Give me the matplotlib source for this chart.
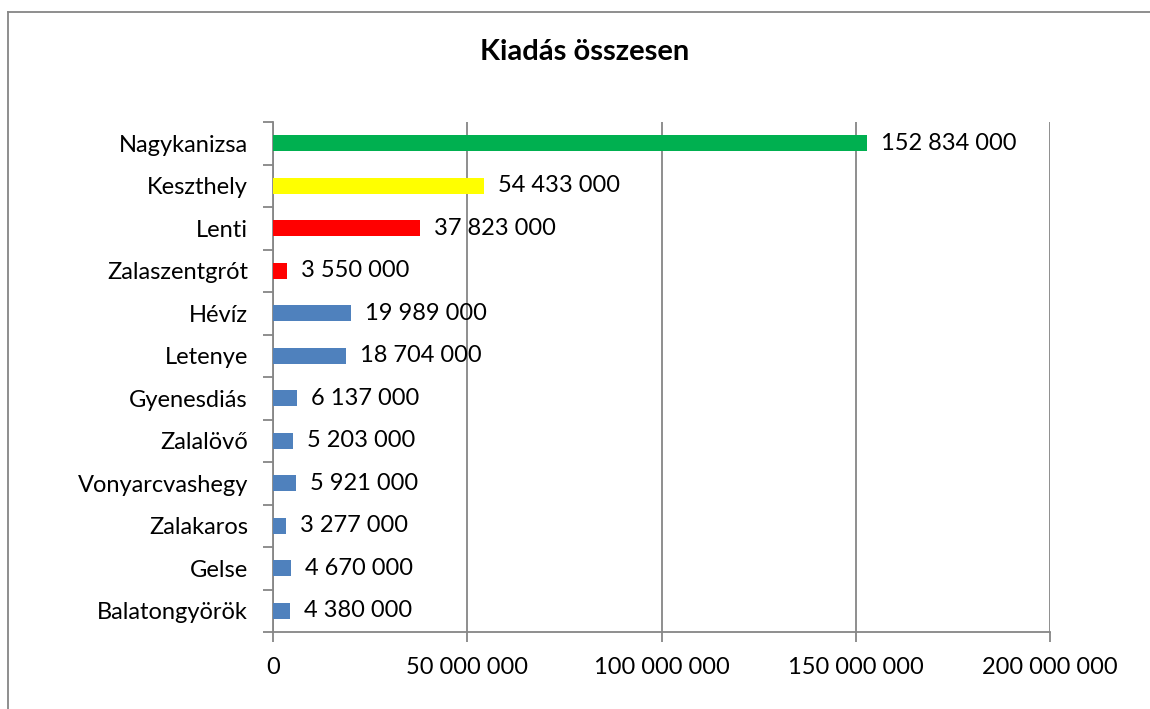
import matplotlib.pyplot as plt
from matplotlib.lines import Line2D
from matplotlib.ticker import FuncFormatter, FixedLocator

plt.rcParams['font.family'] = ['Lato', 'DejaVu Sans']

# data (top to bottom as shown)
cities = ["Nagykanizsa", "Keszthely", "Lenti", "Zalaszentgrót", "Hévíz", "Letenye",
          "Gyenesdiás", "Zalalövő", "Vonyarcvashegy", "Zalakaros", "Gelse", "Balatongyörök"]
values = [152834000, 54433000, 37823000, 3550000, 19989000, 18704000,
          6137000, 5203000, 5921000, 3277000, 4670000, 4380000]
colors = ["#00B050", "#FFFF00", "#FF0000", "#FF0000"] + ["#4F81BD"] * 8
x_ticks = [0, 50000000, 100000000, 150000000, 200000000]


def fmt(v, pos=None):
    return f"{int(v):,}".replace(",", " ")


fig = plt.figure(figsize=(11.5, 7.09), dpi=100)
ax = fig.add_axes([273 / 1150, 1 - 632 / 709, (1050 - 273) / 1150, (632 - 122) / 709])

n = len(cities)
ypos = list(range(n))
ax.barh(ypos, values, height=0.38, color=colors, zorder=3)
ax.set_ylim(n - 0.5, -0.5)
ax.set_xlim(0, 200000000)

for y, v in zip(ypos, values):
    ax.annotate(fmt(v), (v, y), xytext=(10, 0), textcoords="offset points",
                va="center", ha="left", fontsize=17, zorder=4)

ax.xaxis.set_major_locator(FixedLocator(x_ticks))
ax.xaxis.set_major_formatter(FuncFormatter(fmt))
ax.grid(axis="x", color="#868686", linewidth=1.3, zorder=0)
ax.set_axisbelow(True)

# category labels without ticks, ticks at boundaries
ax.set_yticks(ypos)
ax.set_yticklabels(cities)
ax.tick_params(axis="y", which="major", length=0, pad=18, labelsize=17)
ax.set_yticks([i - 0.5 for i in range(n + 1)], minor=True)
ax.tick_params(axis="y", which="minor", length=7, width=1.3, color="#868686", direction="out")
ax.tick_params(axis="x", length=7, width=1.3, color="#868686", pad=11, labelsize=17)

for s in ["top", "right"]:
    ax.spines[s].set_visible(False)
for s in ["left", "bottom"]:
    ax.spines[s].set_color("#868686")
    ax.spines[s].set_linewidth(1.3)

fig.text(585 / 1150, 1 - 52 / 709, "Kiadás összesen", ha="center", va="center",
         fontsize=21, fontweight="bold")

# chart-area border (left and top edges visible)
fig.add_artist(Line2D([8 / 1150, 8 / 1150], [0, 1 - 12 / 709], color="#868686", lw=1.3))
fig.add_artist(Line2D([8 / 1150, 1], [1 - 12 / 709, 1 - 12 / 709], color="#868686", lw=1.3))

fig.savefig("out.png", dpi=100)
